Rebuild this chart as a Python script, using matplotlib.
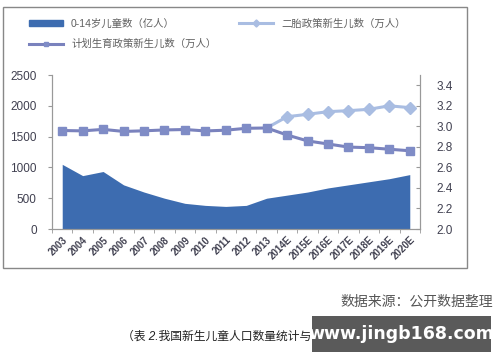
import numpy as np
import matplotlib
matplotlib.use('Agg')
import matplotlib.pyplot as plt
from matplotlib.patches import Rectangle

plt.rcParams['font.family'] = ['Liberation Sans', 'Noto Sans CJK SC', 'DejaVu Sans']

years = ['2003', '2004', '2005', '2006', '2007', '2008', '2009', '2010', '2011',
         '2012', '2013', '2014E', '2015E', '2016E', '2017E', '2018E', '2019E', '2020E']
# 0-14 children (100 million people), right axis
children = [2.63, 2.52, 2.56, 2.43, 2.36, 2.30, 2.25, 2.23, 2.22,
            2.23, 2.30, 2.33, 2.36, 2.40, 2.43, 2.46, 2.49, 2.53]
# births under family planning policy (10k), left axis
births_fp = [1599, 1593, 1617, 1584, 1594, 1608, 1615, 1592, 1604,
             1635, 1640, 1526, 1430, 1380, 1330, 1320, 1295, 1270]
# births under two-child policy (10k), from 2013
births_two = [1640, 1823, 1862, 1905, 1921, 1943, 2000, 1970]

c_area = '#3d6cb0'
c_fp = '#7a82bd'
c_two = '#a9bde2'

fig = plt.figure(figsize=(5, 3.62), dpi=100)
fig.patches.append(Rectangle((3/500, 1-268/362), 464/500, 261/362, transform=fig.transFigure,
                             fill=False, edgecolor='#888888', lw=1))

ax = fig.add_axes([0.104, 0.3674, 0.736, 0.4254])
ax2 = ax.twinx()
x = np.arange(len(years))

ax2.fill_between(x, 2.0, children, color=c_area, lw=0)
ax2.set_ylim(2.0, 3.5)
ax2.set_yticks(np.arange(2.0, 3.41, 0.2))
ax2.set_yticklabels(['%.1f' % v for v in np.arange(2.0, 3.41, 0.2)])

ax.set_zorder(ax2.get_zorder() + 1)
ax.patch.set_visible(False)
x2 = x[10:]
l2, = ax.plot(x2, births_two, color=c_two, lw=2.2, marker='D', ms=6,
              markevery=list(range(1, len(x2))))
l1, = ax.plot(x, births_fp, color=c_fp, lw=2.2, marker='s', ms=6,
              markerfacecolor='#7f8cc6', markeredgecolor='#7f8cc6')
ax.set_ylim(0, 2500)
ax.set_yticks(range(0, 2501, 500))
ax.set_xlim(-0.5, len(years) - 0.5)
ax.set_xticks(x)
ax.set_xticklabels(years, rotation=45, ha='right', rotation_mode='anchor', fontsize=7,
                   fontweight='bold')
ax.set_xticks(np.arange(-0.5, len(years), 1), minor=True)
ax.tick_params(axis='x', which='major', length=0, pad=4, colors='#404050')
ax.tick_params(axis='x', which='minor', length=3, color='#999999', direction='out')
ax.tick_params(axis='y', length=3, color='#999999', labelsize=8.5, labelcolor='#404050', pad=8)
ax2.tick_params(axis='y', length=3, color='#999999', direction='in', labelsize=8.5,
                labelcolor='#404050', pad=12)

for a in (ax, ax2):
    a.spines['top'].set_visible(False)
    for s in ('left', 'right', 'bottom'):
        a.spines[s].set_color('#999999')
ax.spines['left'].set_bounds(0, 2500)
ax2.spines['right'].set_bounds(2.0, 3.5)

area_handle = Rectangle((0, 0), 1, 1, color=c_area)
fig.legend([area_handle, l1, l2], ['0-14岁儿童数（亿人）', '计划生育政策新生儿数（万人）', '二胎政策新生儿数（万人）'],
           ncol=2, loc='upper left', bbox_to_anchor=(0.04, 0.975), frameon=False,
           fontsize=7.5, labelcolor='#606060', handlelength=3.2, columnspacing=2.2,
           handleheight=0.5, markerscale=0.6, labelspacing=1.0)

fig.text(0.986, 1 - 302/362, '数据来源：公开数据整理', ha='right', va='center', fontsize=10, color='#555555')
fig.text(0.244, 1 - 337/362, '（表 2.我国新生儿童人口数量统计与预测）', ha='left', va='center',
         fontsize=8.5, style='italic', color='#222222')
fig.patches.append(Rectangle((312/500, 1-352/362), 179/500, 36/362, transform=fig.transFigure,
                             facecolor='#5a5a5a', edgecolor='none', zorder=5))
fig.text(401/500, 1 - 334/362, 'www.jingb168.com', ha='center', va='center', fontsize=12.5,
         fontweight='bold', color='white', family='DejaVu Sans', zorder=6)

fig.savefig('out.png', dpi=100)
